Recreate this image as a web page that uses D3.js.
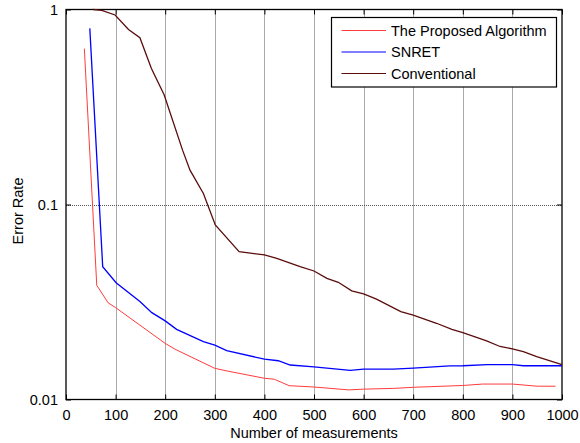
<!DOCTYPE html>
<html><head><meta charset="utf-8">
<script src="https://d3js.org/d3.v7.min.js"></script>
<style>body{margin:0;background:#fff}svg{display:block;font-family:"Liberation Sans",Arial,sans-serif}</style>
</head><body><svg id="c" width="580" height="443"></svg>
<script>
const seriesNames = ["The Proposed Algorithm", "SNRET", "Conventional"];
const seriesColors = ["#ff3b3b", "#0000ff", "#5a0d0d"];
const proposedX = [37, 62, 85, 100, 200, 220, 300, 325, 400, 420, 450, 500, 570, 600, 660, 700, 800, 840, 900, 950, 987];
const proposedY = [0.63, 0.0385, 0.0313, 0.0296, 0.0194, 0.0181, 0.01445, 0.0140, 0.01285, 0.0127, 0.01177, 0.01159, 0.0112, 0.0113, 0.0114, 0.01155, 0.0118, 0.0120, 0.0120, 0.0117, 0.0117];
const snretX = [48, 74, 101, 149, 173, 200, 223, 277, 300, 324, 400, 428, 452, 500, 573, 600, 660, 700, 774, 800, 850, 900, 922, 1000];
const snretY = [0.80, 0.048, 0.0397, 0.0318, 0.0279, 0.0253, 0.0229, 0.0198, 0.0190, 0.0178, 0.0161, 0.0158, 0.01503, 0.0147, 0.0141, 0.0143, 0.0143, 0.0145, 0.01486, 0.0149, 0.0151, 0.0151, 0.0149, 0.0149];
const convX = [55, 72, 99, 126, 149, 172, 198, 235, 250, 277, 301, 349, 400, 425, 472, 500, 526, 549, 576, 600, 626, 675, 700, 747, 778, 800, 848, 875, 900, 922, 949, 1000];
const convY = [1.0, 0.99, 0.937, 0.79, 0.717, 0.5, 0.364, 0.19, 0.150, 0.114, 0.0785, 0.0573, 0.0551, 0.053, 0.048, 0.0456, 0.0418, 0.0399, 0.0361, 0.0348, 0.0327, 0.0282, 0.0271, 0.0246, 0.0229, 0.022, 0.020, 0.0187, 0.0182, 0.0176, 0.0166, 0.0151];
const xTicks = [0, 100, 200, 300, 400, 500, 600, 700, 800, 900, 1000];
const yTicks = [0.01, 0.1, 1];
const yTickLabels = ["0.01", "0.1", "1"];
const xLabel = "Number of measurements";
const yLabel = "Error Rate";

const FS = 14.5;
const L = 66, R = 562, T = 9.5, B = 399.5;
const svg = d3.select("#c");
const x = d3.scaleLinear().domain([0, 1000]).range([L, R]);
const y = d3.scaleLog().domain([0.01, 1]).range([B, T]);
const px = v => Math.round(v) + 0.5;

// grid
const g = svg.append("g");
g.selectAll("line.vg").data(xTicks.slice(1, -1)).join("line")
  .attr("x1", d => px(x(d))).attr("x2", d => px(x(d))).attr("y1", T).attr("y2", B)
  .attr("stroke", "#555").attr("stroke-width", 1).attr("stroke-dasharray", "1,1");
g.selectAll("line.hg").data(yTicks.slice(1, -1)).join("line")
  .attr("x1", L).attr("x2", R).attr("y1", d => px(y(d))).attr("y2", d => px(y(d)))
  .attr("stroke", "#555").attr("stroke-width", 1).attr("stroke-dasharray", "1,1");

// axes
const xb = svg.append("g").attr("transform", `translate(0,${B})`)
  .call(d3.axisBottom(x).tickValues(xTicks).tickSizeInner(-5).tickSizeOuter(0).tickPadding(10).tickFormat(d3.format("d")));
const xt = svg.append("g").attr("transform", `translate(0,${T})`)
  .call(d3.axisTop(x).tickValues(xTicks).tickSizeInner(-5).tickSizeOuter(0).tickFormat(""));
const yl = svg.append("g").attr("transform", `translate(${L},0)`)
  .call(d3.axisLeft(y).tickValues(yTicks).tickSizeInner(-5).tickSizeOuter(0).tickPadding(8).tickFormat((d, i) => yTickLabels[i]));
const yr = svg.append("g").attr("transform", `translate(${R},0)`)
  .call(d3.axisRight(y).tickValues(yTicks).tickSizeInner(-5).tickSizeOuter(0).tickFormat(""));
[xb, xt, yl, yr].forEach(a => {
  a.select(".domain").remove();
  a.selectAll("line").attr("stroke", "#000");
  a.selectAll("text").attr("font-size", FS).attr("fill", "#000").attr("font-family", "Liberation Sans, Arial, sans-serif");
});
svg.append("rect").attr("x", L).attr("y", T).attr("width", R - L).attr("height", B - T)
  .attr("fill", "none").attr("stroke", "#000").attr("stroke-width", 1.3);

// lines
const data = [[proposedX, proposedY], [snretX, snretY], [convX, convY]];
const line = d3.line().x(d => x(d[0])).y(d => y(d[1]));
data.forEach((s, i) => {
  const pts = s[0].map((v, j) => [v, s[1][j]]);
  svg.append("path").datum(pts).attr("d", line).attr("fill", "none")
    .attr("stroke", seriesColors[i]).attr("stroke-width", i === 0 ? 1 : 1.3);
});

// legend
const lg = svg.append("g");
lg.append("rect").attr("x", 331.5).attr("y", 17.5).attr("width", 225).attr("height", 69.5)
  .attr("fill", "#fff").attr("stroke", "#000").attr("stroke-width", 1.2);
seriesNames.forEach((n, i) => {
  const yy = 30.5 + i * 21.5;
  lg.append("line").attr("x1", 341.5).attr("x2", 386).attr("y1", yy).attr("y2", yy)
    .attr("stroke", seriesColors[i]).attr("stroke-width", 1);
  lg.append("text").attr("x", 391).attr("y", yy + 5).attr("font-size", FS).attr("fill", "#000").text(n);
});

// axis labels
svg.append("text").attr("x", x(500)).attr("y", 438).attr("text-anchor", "middle").attr("font-size", FS).text(xLabel);
svg.append("text").attr("transform", `translate(23,211) rotate(-90)`).attr("text-anchor", "middle").attr("font-size", FS).text(yLabel);
</script></body></html>
